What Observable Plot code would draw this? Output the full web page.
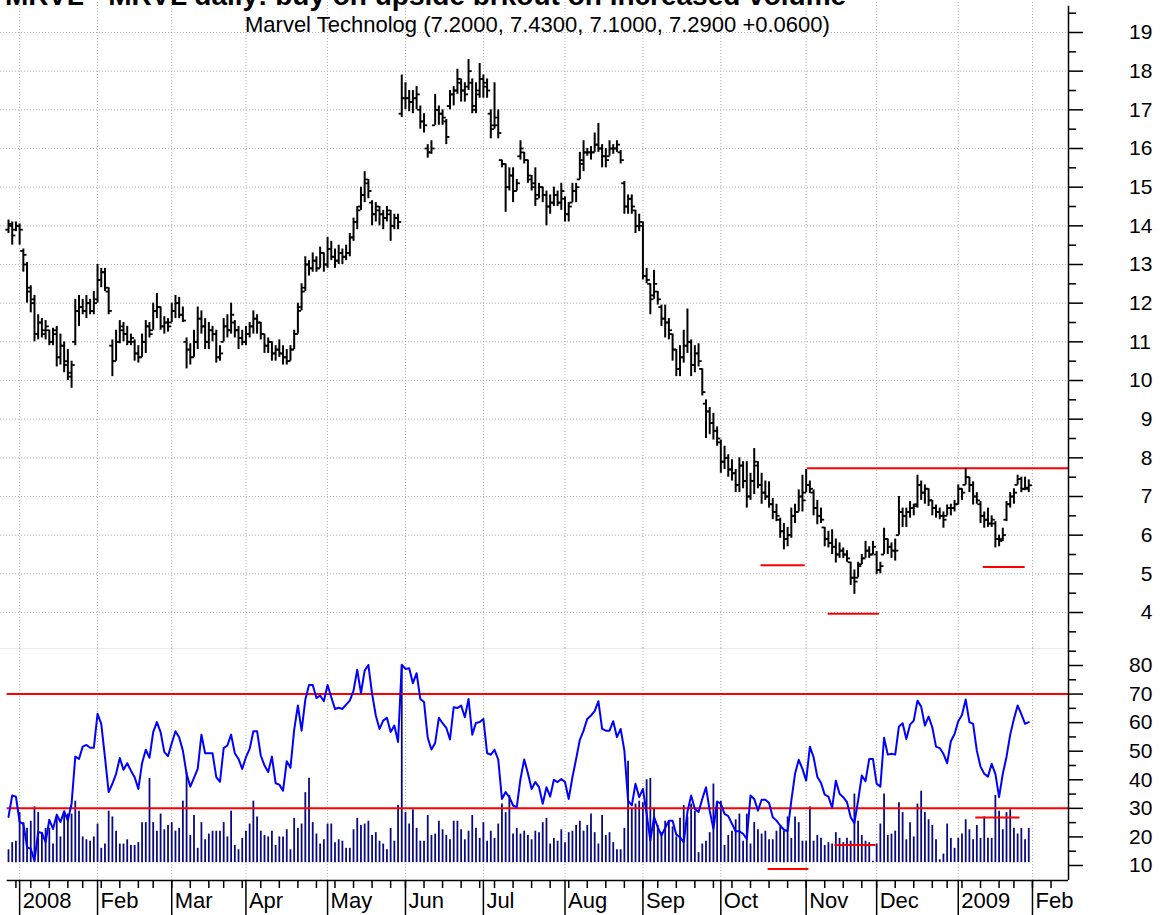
<!DOCTYPE html>
<html><head><meta charset="utf-8">
<script src="https://cdn.jsdelivr.net/npm/d3@7"></script>
<script src="https://cdn.jsdelivr.net/npm/@observablehq/plot@0.6"></script>
<style>
html,body{margin:0;padding:0;background:#fff;overflow:hidden;width:1168px;height:915px;}
#wrap{position:relative;width:1168px;height:915px;font-family:"Liberation Sans",Arial,sans-serif;overflow:hidden;}
#title{position:absolute;left:5px;top:-18px;font-weight:bold;font-size:28px;line-height:28px;white-space:nowrap;z-index:3;}
#sub{position:absolute;left:245px;top:14px;font-size:22px;line-height:22px;white-space:nowrap;z-index:3;}
#top{position:absolute;left:0;top:0;width:1168px;height:648px;}
#bot{position:absolute;left:0;top:648px;width:1168px;height:267px;}
#top svg,#bot svg{max-width:none !important;display:block;}
</style></head><body>
<div id="wrap">
  <div id="top"></div>
  <div id="bot"></div>
  <div id="title"></div>
  <div id="sub"></div>
</div>
<script>
const titleText = "MRVL - MRVL daily: buy on upside brkout on increased volume";
const subtitleText = "Marvel Technolog (7.2000, 7.4300, 7.1000, 7.2900 +0.0600)";
const monthNames = ["Jan","Feb","Mar","Apr","May","Jun","Jul","Aug","Sep","Oct","Nov","Dec"];
const holidays = ["2008-01-01","2008-01-21","2008-02-18","2008-03-21","2008-05-26","2008-07-04","2008-09-01","2008-11-27","2008-12-25","2009-01-01","2009-01-19","2009-02-16"];
const firstDay = "2007-12-27", lastCalendarDay = "2009-02-20";

const open = [13.9,14.0,13.9,14.0,13.35,13.0,12.3,12.1,11.2,11.5,
11.2,11.3,11.0,11.3,10.6,10.9,10.5,10.1,11.0,11.8,
11.9,11.8,12.0,11.8,12.1,12.6,12.8,12.3,10.9,10.5,
11.0,11.4,11.2,11.0,11.0,10.7,10.6,11.0,11.4,11.3,
11.8,11.9,11.4,11.5,11.5,11.8,12.0,11.7,11.0,10.8,
10.6,11.0,11.6,11.4,11.0,11.3,11.2,10.6,11.0,11.4,
11.3,11.5,11.3,11.1,11.0,11.2,11.4,11.6,11.5,11.2,
10.9,11.0,10.7,10.8,10.7,10.6,10.5,10.8,11.2,11.9,
12.4,13.0,12.9,13.1,12.9,13.3,13.0,13.4,13.2,13.1,
13.3,13.2,13.3,13.7,14.1,14.5,14.8,15.1,14.6,14.3,
14.4,14.3,14.2,14.3,14.0,14.2,16.9,17.3,17.3,17.2,
17.3,17.0,16.7,16.0,15.9,16.6,17.0,16.9,16.7,17.1,
17.4,17.5,17.7,17.5,17.6,17.7,17.0,17.4,17.8,17.6,
16.9,16.6,16.8,15.7,15.6,15.0,15.3,14.9,15.8,15.9,
15.7,15.2,15.1,14.8,15.0,14.8,14.5,14.6,14.8,14.6,
14.7,14.3,14.6,14.9,15.2,15.6,15.9,15.9,15.9,16.1,
16.0,15.8,15.8,16.0,16.0,15.9,15.1,14.5,14.7,14.4,
14.0,14.0,12.7,12.5,12.2,12.3,11.9,11.6,11.5,11.2,
10.8,10.3,10.6,10.9,11.0,10.4,10.7,10.3,9.4,9.2,
8.9,8.7,8.4,7.9,8.0,7.7,7.6,7.3,7.8,7.4,
7.0,7.4,7.8,7.3,7.1,7.0,6.8,6.6,6.4,6.1,
5.9,6.0,6.5,6.6,7.0,7.1,7.3,7.1,6.7,6.5,
6.2,5.9,5.8,5.7,5.5,5.6,5.5,5.3,4.9,4.9,
5.25,5.4,5.6,5.5,5.5,5.1,5.5,5.9,5.7,5.6,
6.0,6.6,6.5,6.6,6.7,6.8,7.3,7.1,7.2,6.9,
6.7,6.6,6.5,6.5,6.7,6.7,6.8,7.2,7.3,7.5,
7.3,7.0,6.8,6.5,6.4,6.3,6.3,5.9,5.9,6.4,
6.8,7.0,7.3,7.45,7.2,7.2];
const high = [14.15,14.1,14.1,14.05,13.4,13.05,12.45,12.2,11.7,11.6,
11.55,11.3,11.35,11.4,11.2,11.0,10.8,10.5,12.1,12.2,
12.1,12.2,12.1,12.3,13.0,12.9,12.9,12.4,11.05,11.3,
11.55,11.5,11.4,11.2,11.05,10.9,11.2,11.55,11.5,12.0,
12.25,11.9,11.65,11.6,12.0,12.2,12.15,11.9,11.1,10.95,
11.3,11.9,11.8,11.6,11.5,11.4,11.3,10.9,11.6,11.7,
12.0,11.55,11.4,11.3,11.4,11.5,11.8,11.7,11.5,11.2,
11.1,11.0,10.9,11.05,10.9,10.8,10.9,11.3,12.0,12.5,
13.2,13.1,13.3,13.2,13.45,13.3,13.7,13.6,13.4,13.5,
13.4,13.5,13.8,14.2,14.5,15.0,15.4,15.2,14.65,14.6,
14.5,14.4,14.5,14.4,14.3,14.3,17.9,17.7,17.5,17.5,
17.6,17.1,16.9,16.1,16.2,17.4,17.1,17.0,16.75,17.5,
17.6,18.05,17.8,17.7,18.3,17.8,17.7,18.2,17.9,17.8,
17.0,17.7,17.0,15.7,15.6,15.5,15.5,15.2,16.2,15.9,
15.7,15.3,15.5,15.1,15.0,14.9,14.8,15.0,14.9,15.1,
14.75,14.6,15.1,15.1,15.9,16.2,16.0,16.05,16.4,16.65,
16.1,16.0,16.2,16.1,16.2,15.95,15.15,14.8,14.8,14.4,
14.3,14.1,12.9,12.5,12.85,12.3,11.95,11.95,11.6,11.2,
10.8,10.9,11.3,11.85,11.05,10.9,10.95,10.3,9.5,9.3,
9.15,8.8,8.46,8.3,8.08,7.95,7.7,8.0,7.9,7.9,
7.6,8.24,7.9,7.6,7.4,7.38,6.95,6.8,6.44,6.3,
6.2,6.7,6.8,7.17,7.55,7.7,7.4,7.17,6.9,6.7,
6.2,6.1,6.14,5.9,5.8,5.67,5.6,5.3,5.1,5.3,
5.5,5.84,5.7,5.84,5.58,5.3,6.18,5.9,5.8,5.9,
7.0,6.7,6.7,6.87,6.8,7.55,7.4,7.3,7.2,6.9,
6.78,6.7,6.6,6.78,6.8,6.9,7.3,7.2,7.73,7.5,
7.38,7.1,6.87,6.6,6.7,6.5,6.35,6.0,6.18,6.87,
7.1,7.2,7.55,7.5,7.5,7.43];
const low = [13.8,13.5,13.85,13.5,12.8,12.0,11.75,11.0,11.05,11.1,
11.05,10.9,10.9,10.35,10.4,10.2,10.0,9.8,10.9,11.4,
11.7,11.6,11.7,11.7,12.0,12.4,12.3,11.7,10.1,10.5,
10.95,11.0,10.9,10.9,10.5,10.45,10.6,10.7,11.1,11.3,
11.6,11.3,11.2,11.25,11.5,11.6,11.6,11.5,10.3,10.4,
10.6,10.8,11.2,10.8,10.8,11.0,10.45,10.5,11.0,11.1,
11.2,11.1,10.8,10.9,10.9,11.1,11.2,11.2,11.05,10.7,
10.7,10.5,10.5,10.6,10.4,10.4,10.5,10.8,11.2,11.8,
12.3,12.7,12.8,12.8,12.9,12.8,12.9,13.1,12.9,13.0,
13.0,13.1,13.2,13.6,13.9,14.4,14.6,14.7,14.0,14.1,
14.0,13.9,14.1,13.6,13.9,13.9,16.8,17.0,16.95,16.9,
17.0,16.5,16.4,15.75,15.85,16.6,16.6,16.6,16.1,17.0,
17.1,17.4,17.2,17.2,17.5,16.9,16.9,17.3,17.3,17.3,
16.25,16.5,16.25,15.5,14.35,14.9,14.6,14.9,15.7,15.6,
15.1,14.9,14.5,14.7,14.6,14.0,14.3,14.5,14.5,14.4,
14.1,14.1,14.6,14.6,15.2,15.4,15.8,15.7,15.9,15.9,
15.5,15.5,15.8,15.85,15.9,15.6,14.3,14.3,14.3,13.8,
13.85,12.6,12.5,11.7,12.1,11.95,11.4,11.1,11.05,10.5,
10.1,10.1,10.45,10.7,10.1,10.2,10.35,9.6,8.5,8.6,
8.46,8.3,7.6,7.7,7.5,7.4,7.1,7.1,7.2,6.7,
6.9,7.05,7.2,6.8,6.9,6.7,6.4,6.35,5.92,5.62,
5.7,5.92,6.3,6.6,6.6,7.1,7.08,6.5,6.27,6.3,
5.7,5.67,5.5,5.28,5.4,5.4,5.3,4.7,4.47,4.9,
5.24,5.4,5.4,5.5,4.98,5.0,5.5,5.5,5.4,5.33,
6.0,6.2,6.2,6.44,6.5,6.7,6.9,6.8,6.74,6.5,
6.44,6.4,6.18,6.5,6.5,6.6,6.78,6.9,7.3,7.1,
6.78,6.8,6.3,6.18,6.2,6.2,5.67,5.7,5.84,6.35,
6.7,6.8,7.3,7.1,7.15,7.1];
const close = [14.05,13.75,14.0,13.9,13.25,12.4,12.0,11.2,11.5,11.3,
11.4,11.0,11.2,10.6,10.9,10.4,10.2,10.4,11.8,11.9,
11.8,12.0,11.8,12.0,12.6,12.8,12.4,11.8,10.5,11.0,
11.3,11.2,11.0,11.1,10.7,10.6,11.0,11.4,11.2,11.8,
11.9,11.4,11.5,11.4,11.8,12.0,11.7,11.55,10.8,10.6,
11.0,11.6,11.4,11.0,11.3,11.2,10.6,10.7,11.4,11.3,
11.7,11.3,11.1,11.0,11.2,11.4,11.6,11.5,11.2,10.9,
11.0,10.7,10.8,10.7,10.6,10.5,10.8,11.2,11.8,12.3,
13.0,12.9,13.1,12.9,13.3,13.0,13.4,13.2,13.1,13.3,
13.2,13.3,13.7,14.1,14.4,14.8,15.2,14.9,14.3,14.5,
14.3,14.2,14.4,14.0,14.2,14.1,17.3,17.3,17.2,17.3,
17.4,16.7,16.6,15.9,16.0,17.0,16.9,16.8,16.3,17.4,
17.5,17.8,17.5,17.4,18.0,17.1,17.5,17.8,17.7,17.5,
16.5,16.6,16.4,15.6,15.0,15.3,14.9,15.1,16.0,15.7,
15.3,15.0,14.7,15.0,14.8,14.5,14.6,14.8,14.6,14.9,
14.3,14.5,14.9,15.0,15.7,15.9,15.9,15.9,16.1,16.0,
15.8,15.7,16.0,16.0,16.1,15.7,14.5,14.7,14.5,14.0,
14.1,12.7,12.6,12.1,12.5,12.1,11.6,11.5,11.3,10.8,
10.3,10.6,10.9,11.0,10.4,10.7,10.5,9.7,9.2,8.9,
8.7,8.5,7.9,8.0,7.7,7.6,7.3,7.8,7.4,7.0,
7.4,7.9,7.3,7.1,7.0,6.8,6.6,6.5,6.1,5.9,
6.0,6.5,6.6,7.0,6.9,7.3,7.2,6.7,6.5,6.4,
5.9,5.8,5.7,5.5,5.6,5.5,5.4,4.9,4.8,5.2,
5.4,5.6,5.5,5.7,5.1,5.2,5.9,5.7,5.6,5.6,
6.6,6.5,6.6,6.7,6.75,7.3,7.1,7.2,6.9,6.7,
6.6,6.5,6.4,6.7,6.7,6.8,7.2,7.1,7.5,7.3,
7.0,6.9,6.5,6.4,6.3,6.4,5.9,5.85,6.0,6.8,
7.0,7.1,7.45,7.2,7.23,7.29];
// volume, millions of shares
const volume = [9,14,15,35,28,24,29,39,35,21,
24,24,13,32,18,34,34,34,43,36,
18,16,15,18,27,10,13,36,32,22,
13,13,16,12,12,14,28,28,59,28,
22,34,23,26,28,22,24,43,63,19,
33,10,28,16,20,22,22,22,28,18,
36,12,9,17,22,27,43,32,22,19,
18,22,12,18,18,23,9,31,24,27,
49,59,28,20,13,16,27,27,14,16,
15,10,10,23,31,26,27,29,19,21,
15,13,9,24,15,40,138,
35,27,37,24,15,15,33,19,20,29,
23,19,16,29,29,23,16,22,33,24,
17,28,15,22,17,27,41,35,47,20,
24,20,22,19,16,22,21,28,31,13,
17,15,23,14,21,22,26,29,22,26,
34,21,13,33,19,21,14,9,9,24,
71,38,41,43,42,58,59,38,26,21,
29,29,25,18,31,40,32,41,36,7,
13,15,21,55,42,43,12,19,22,30,
34,15,34,13,28,23,20,22,16,16,
22,25,22,32,17,32,28,
15,15,39,15,19,17,12,14,13,21,
17,14,17,15,48,29,19,15,14,1,
13,27,48,19,20,22,42,35,16,28,
18,41,50,35,30,26,16,2,6,27,
17,10,17,20,30,23,16,26,17,32,
17,17,47,36,23,35,37,24,20,24,
16,24];
const rsi = [27,34.5,34.1,25.2,24.6,16.4,15.8,11.7,21.7,21.4,
18.2,26,22.8,27.8,25.2,29,25.7,31.6,48.1,47.3,
51.6,52.2,51.2,51.2,63.1,59.6,47.9,35.7,38.6,42.1,
47.6,43.5,45.8,43.2,40.9,36.8,45.8,50.5,47.7,56.7,
60.2,56.7,49.7,48.3,52.8,57,54.9,50.2,42.1,37.6,
40.7,43.8,55.8,49.3,49.3,49.3,40.9,39.3,51.1,52,
55.8,49.3,47.3,43.8,47.9,50.8,57,57,48.5,45,
42.7,48.1,38.8,38.3,36.2,46.5,44.2,57.5,66,57.2,
68,73.2,73.2,68.6,69.5,67.5,73.2,68.9,64.8,65.2,
64.8,66.3,67.7,71.2,78.5,70.3,78.2,80.2,70.1,62.5,
57.8,60.7,61.7,56.7,59,53.2,80.3,78.8,79,73.8,
77.3,68.3,67.2,54.7,50.6,52.9,61.7,59.8,58.2,54.1,
65.4,65.1,66,61.9,68.3,55.8,59.9,60.2,61.3,49.3,
48.8,50.5,47.1,33.3,35.7,33.9,31,30.4,40.3,47.1,
42.3,36.8,39.2,37.4,31.6,37.4,34.1,40,39.2,40.3,
39.2,33.3,40.9,47.3,54,57.2,61.3,62.5,64,67.5,
57.8,57.2,57.2,60.5,54.9,57.8,50.2,32.7,31,38.6,
33.9,36.8,28.1,18.7,26.9,23.4,20.5,23.1,25.7,25.7,
20.8,19.9,18.2,28.7,34.5,29.8,28.7,33.3,37.4,29.2,
22.8,32.4,31.6,28.1,27.3,24.6,22,22,21.1,19.3,
34.5,33.3,29.2,33,33,31.9,26.9,25.7,24,22.5,
22,32.7,42.1,47,43.8,39.7,51.6,47.9,41.1,38.9,
34.8,34.1,30.2,39.7,35.1,33.9,32.2,26.9,24.8,32.7,
41.5,39.5,47.3,47.3,38.6,37.6,54.7,48.8,49.1,48.8,
58.6,59.8,54.3,59.3,60.7,67.7,65.6,59,62.1,58.4,
51.6,51.1,49.1,45.8,53.5,56,60.5,62.7,68.1,60.2,
59.6,50.2,44.6,42.1,41.1,45.6,42.1,33.9,42.1,48,
55.8,61.3,66,63,59.6,60.2];
// trend lines drawn on the price panel (bar index from/to, price)
const priceLines = [
  {from: 215.2, to: 285.7, level: 7.73},
  {from: 202.7, to: 214.6, level: 5.22},
  {from: 220.8, to: 234.6, level: 3.97},
  {from: 262.6, to: 273.9, level: 5.18}
];
// lines drawn on the volume/RSI panel (panel units)
const lowerLines = [
  {from: 204.6, to: 215.6, level: 8.8},
  {from: 222.6, to: 233.7, level: 17.2},
  {from: 260.6, to: 272.5, level: 26.8}
];
const rsiLevels = [70, 30];
const priceTicks = d3.range(4, 20);
const rsiTicks = [10,20,30,40,50,60,70,80];

document.getElementById("title").textContent = titleText;
document.getElementById("sub").textContent = subtitleText;

// trading calendar
const dates = [];
{
  let d = new Date(firstDay + "T00:00:00Z");
  const end = new Date(lastCalendarDay + "T00:00:00Z");
  while (d <= end) {
    const wd = d.getUTCDay();
    const s = d.toISOString().slice(0, 10);
    if (wd !== 0 && wd !== 6 && !holidays.includes(s)) dates.push(new Date(d));
    d = new Date(d.getTime() + 86400000);
  }
}
const xMin = -2.156, xMax = 285.71;
const monthTicks = [], weekTicks = [];
for (let i = 1; i < dates.length; i++) {
  if (i > xMax) break;
  if (dates[i].getUTCMonth() !== dates[i-1].getUTCMonth()) {
    const m = dates[i].getUTCMonth();
    monthTicks.push({i, label: m === 0 ? String(dates[i].getUTCFullYear()) : monthNames[m]});
  }
  if (dates[i].getUTCDay() < dates[i-1].getUTCDay()) weekTicks.push(i);
}
const idx = d3.range(close.length);
const pxPerIdx = 1068 / (xMax - xMin);
// right edge of the axis labels sits 84px right of the axis line; one digit is ~11.7px wide
const labelLeft = d => xMax + (84 - String(d).length * 11.7) / pxPerIdx;
const font = {fontFamily: "'Liberation Sans', Arial, sans-serif", fontSize: "21px", background: "transparent", overflow: "visible", maxWidth: "none"};
const grid = {stroke: "#b0b0b0", strokeDasharray: "1,2", strokeWidth: 1};

// ---------- price panel ----------
const pPx = 38.667;
const pMax = 19 + 32 / pPx, pMin = 19 - 616 / pPx;
const topPlot = Plot.plot({
  width: 1168, height: 648,
  marginLeft: 0, marginRight: 100, marginTop: 0, marginBottom: 0,
  x: {domain: [xMin, xMax], axis: null},
  y: {domain: [pMin, pMax], axis: null},
  style: font,
  marks: [
    Plot.ruleY(priceTicks, {y: d => d, x1: xMin, x2: xMax, ...grid}),
    Plot.ruleX(monthTicks, {x: "i", y1: pMin, y2: pMax, ...grid}),
    Plot.link(priceLines, {x1: "from", x2: "to", y1: "level", y2: "level", stroke: "#ff0000", strokeWidth: 2}),
    Plot.ruleX(idx, {x: i => i, y1: i => low[i], y2: i => high[i], stroke: "#000", strokeWidth: 2}),
    Plot.link(idx, {x1: i => i - 0.85, x2: i => i, y1: i => open[i], y2: i => open[i], stroke: "#000", strokeWidth: 1.8}),
    Plot.link(idx, {x1: i => i, x2: i => i + 0.85, y1: i => close[i], y2: i => close[i], stroke: "#000", strokeWidth: 1.8}),
    Plot.ruleX([xMax], {y1: 19.68, y2: pMin, stroke: "#000", strokeWidth: 1.5}),
    Plot.ruleY(priceTicks, {y: d => d, x1: xMax, x2: xMax + 15 / pxPerIdx, stroke: "#000", strokeWidth: 1.5}),
    Plot.ruleY(d3.range(3.5, 20, 1), {y: d => d, x1: xMax, x2: xMax + 8 / pxPerIdx, stroke: "#000", strokeWidth: 1.5}),
    Plot.text(priceTicks, {x: labelLeft, y: d => d, text: d => String(d), textAnchor: "start", fontSize: 21, fill: "#000"})
  ]
});
document.getElementById("top").appendChild(topPlot);

// ---------- volume / RSI panel ----------
const rPx = 2.857;
const rMax = 80 + 17 / rPx, rMin = 80 - 215 / rPx;
const volBase = 11, volScale = 0.5;
const botPlot = Plot.plot({
  width: 1168, height: 267,
  marginLeft: 0, marginRight: 100, marginTop: 0, marginBottom: 35,
  x: {domain: [xMin, xMax], axis: null},
  y: {domain: [rMin, rMax], axis: null},
  style: font,
  marks: [
    Plot.ruleY([rMax], {x1: xMin, x2: xMax, stroke: "#ececec"}),
    Plot.ruleX(monthTicks, {x: "i", y1: rMin, y2: rMax, ...grid}),
    Plot.ruleX(idx, {x: i => i, y1: volBase, y2: i => volBase + volume[i] * volScale, stroke: "#0a0a80", strokeWidth: 1.8}),
    Plot.ruleY(rsiLevels, {y: d => d, x1: -0.35, x2: xMax, stroke: "#ff0000", strokeWidth: 2}),
    Plot.link(lowerLines, {x1: "from", x2: "to", y1: "level", y2: "level", stroke: "#ff0000", strokeWidth: 2}),
    Plot.line(idx, {x: i => i, y: i => rsi[i], stroke: "#0000ff", strokeWidth: 2}),
    Plot.ruleX([xMax], {y1: rMax, y2: rMin, stroke: "#000", strokeWidth: 1.5}),
    Plot.ruleY(rsiTicks, {y: d => d, x1: xMax, x2: xMax + 15 / pxPerIdx, stroke: "#000", strokeWidth: 1.5}),
    Plot.ruleY(d3.range(15, 90, 10), {y: d => d, x1: xMax, x2: xMax + 8 / pxPerIdx, stroke: "#000", strokeWidth: 1.5}),
    Plot.text(rsiTicks, {x: labelLeft, y: d => d, text: d => String(d), textAnchor: "start", fontSize: 21, fill: "#000"}),
    // time axis
    Plot.ruleY([rMin], {x1: -0.35, x2: xMax, stroke: "#000", strokeWidth: 1.5}),
    Plot.ruleX(monthTicks, {x: "i", y1: rMin, y2: rMin - 35 / rPx, stroke: "#000", strokeWidth: 1.5}),
    Plot.ruleX(weekTicks, {x: d => d, y1: rMin, y2: rMin - 8 / rPx, stroke: "#000", strokeWidth: 1.5}),
    Plot.text(monthTicks, {x: "i", y: rMin - 20 / rPx, text: "label", textAnchor: "start", dx: 3, fontSize: 22, fill: "#000"})
  ]
});
document.getElementById("bot").appendChild(botPlot);
</script>
</body></html>
